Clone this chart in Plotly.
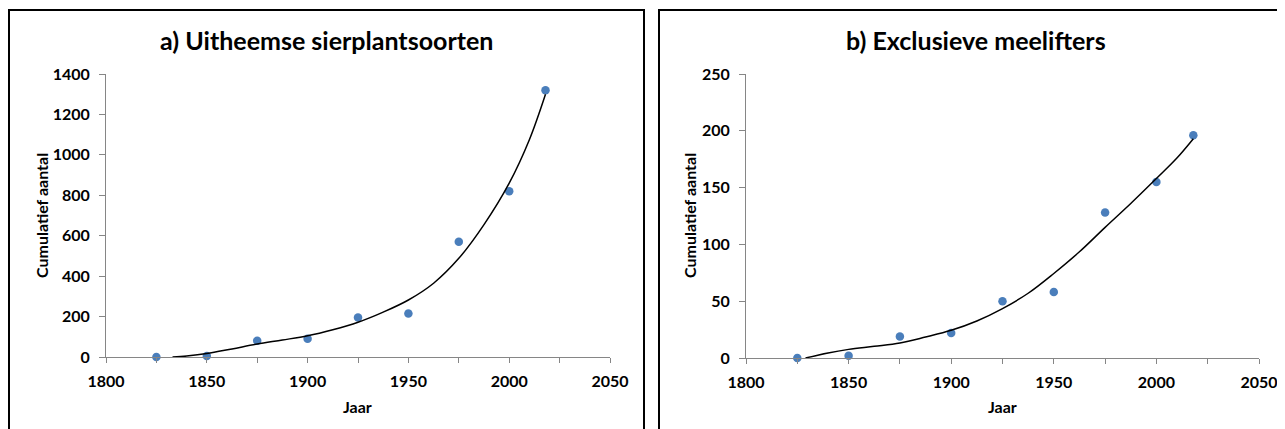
import plotly.graph_objects as go

W, H = 1285, 429
OFF = 8  # page body margin in the browser

# ---------------- data ----------------
years = [1825, 1850, 1875, 1900, 1925, 1950, 1975, 2000, 2018]
sierplanten = [0, 5, 80, 90, 195, 215, 570, 820, 1320]
meelifters = [0, 2, 19, 22, 50, 58, 128, 155, 196]

# trendlines
trend_a_x = [1833, 1840, 1850, 1862.5, 1875, 1887.5, 1900, 1912.5, 1925, 1937.5,
             1950, 1962.5, 1975, 1987.5, 2000, 2010, 2018]
trend_a_y = [0, 5, 17, 40, 64, 84, 105, 135, 172, 222, 282, 365, 488, 655, 860, 1075, 1300]
trend_b_x = [1829, 1840, 1850, 1862.5, 1875, 1887.5, 1900, 1912.5, 1925, 1937.5,
             1950, 1962.5, 1975, 1987.5, 2000, 2010, 2018]
trend_b_y = [0, 4.5, 7.6, 10.3, 13.2, 18.5, 24.4, 32.6, 43.5, 57, 74.4, 93.5,
             115, 136, 158, 176, 193]

titles = ["a) Uitheemse sierplantsoorten", "b) Exclusieve meelifters"]
x_title = "Jaar"
y_title = "Cumulatief aantal"

FONT = "Lato"
MARKER = "#4a7ebb"
AXIS = "#868686"


def px_x(p):
    return (p - OFF) / W


def px_y(p):
    return 1 - (p - OFF) / H


fig = go.Figure()

fig.add_trace(go.Scatter(x=years, y=sierplanten, mode="markers",
                         marker=dict(color=MARKER, size=8.5), xaxis="x", yaxis="y",
                         showlegend=False, cliponaxis=False))
fig.add_trace(go.Scatter(x=trend_a_x, y=trend_a_y, mode="lines", line_shape="spline",
                         line=dict(color="black", width=1.5), xaxis="x", yaxis="y",
                         showlegend=False))
fig.add_trace(go.Scatter(x=years, y=meelifters, mode="markers",
                         marker=dict(color=MARKER, size=8.5), xaxis="x2", yaxis="y2",
                         showlegend=False, cliponaxis=False))
fig.add_trace(go.Scatter(x=trend_b_x, y=trend_b_y, mode="lines", line_shape="spline",
                         line=dict(color="black", width=1.5), xaxis="x2", yaxis="y2",
                         showlegend=False))

tickfont = dict(family=FONT, size=16, color="black", weight="bold")

xcommon = dict(range=[1800, 2050], dtick=50, tick0=1800, showline=True, linecolor=AXIS,
               linewidth=1, ticks="outside", ticklen=5, tickcolor=AXIS, showgrid=False,
               zeroline=False, tickfont=tickfont, ticklabelstandoff=5, automargin=False,
               minor=dict(dtick=25, tick0=1800, ticks="outside", ticklen=5, tickcolor=AXIS,
                          showgrid=False))
ycommon = dict(showline=True, linecolor=AXIS, linewidth=1, ticks="outside", ticklen=6,
               tickcolor=AXIS, showgrid=False, zeroline=False, tickfont=tickfont,
               ticklabelstandoff=6, automargin=False)

fig.update_layout(
    width=W, height=H,
    margin=dict(l=0, r=0, t=0, b=0, autoexpand=False),
    paper_bgcolor="white", plot_bgcolor="white",
    xaxis=dict(domain=[px_x(106), px_x(610)], anchor="y", **xcommon),
    yaxis=dict(domain=[px_y(357), px_y(74)], anchor="x", range=[0, 1400], dtick=200, **ycommon),
    xaxis2=dict(domain=[px_x(746), px_x(1259)], anchor="y2", **xcommon),
    yaxis2=dict(domain=[px_y(358), px_y(74)], anchor="x2", range=[0, 250], dtick=50, **ycommon),
)

# panel borders
fig.add_shape(type="rect", xref="paper", yref="paper", x0=px_x(9), x1=px_x(644),
              y0=px_y(450), y1=px_y(10), line=dict(color="black", width=2))
fig.add_shape(type="rect", xref="paper", yref="paper", x0=px_x(659), x1=px_x(1310),
              y0=px_y(450), y1=px_y(10), line=dict(color="black", width=2))

ann = []
for t, cx in zip(titles, [326, 976]):
    ann.append(dict(text=t, x=px_x(cx), y=px_y(40), xref="paper", yref="paper",
                    showarrow=False, xanchor="center", yanchor="middle",
                    font=dict(family=FONT, size=25, color="black", weight="bold")))
for cx in [357, 1002]:
    ann.append(dict(text=x_title, x=px_x(cx), y=px_y(406), xref="paper", yref="paper",
                    showarrow=False, xanchor="center", yanchor="middle",
                    font=dict(family=FONT, size=16, color="black", weight="bold")))
for cx in [41, 689]:
    ann.append(dict(text=y_title, x=px_x(cx), y=px_y(216), xref="paper", yref="paper",
                    showarrow=False, xanchor="center", yanchor="middle", textangle=-90,
                    font=dict(family=FONT, size=16, color="black", weight="bold")))
fig.update_layout(annotations=ann)

fig.write_html("out.html")
